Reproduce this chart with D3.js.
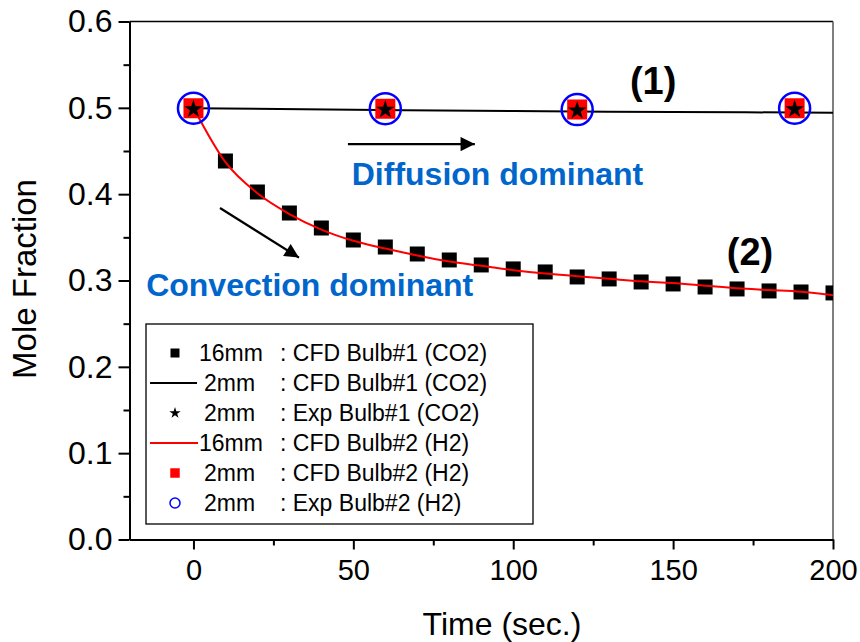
<!DOCTYPE html>
<html>
<head>
<meta charset="utf-8">
<script src="https://cdn.jsdelivr.net/npm/d3@7"></script>
<style>
  body { margin: 0 ; background: #ffffff ; }
  svg text { font-family: "Liberation Sans", Arial, sans-serif ; }
</style>
</head>
<body>
<div id="chart"></div>
<script>

// data
const timeCFD = [0, 10, 20, 30, 40, 50, 60, 70, 80, 90, 100, 110, 120, 130, 140, 150, 160, 170, 180, 190, 200] ;
const co2Bulb1_16mm = [0.5, 0.4384, 0.4025, 0.3782, 0.3608, 0.3469, 0.3388, 0.3307, 0.3238, 0.3180, 0.3134, 0.3099, 0.3041, 0.3018, 0.2983, 0.2960, 0.2925, 0.2902, 0.2879, 0.2867, 0.2856] ;
const h2Bulb2_16mm = [0.5, 0.437, 0.401, 0.377, 0.359, 0.346, 0.337, 0.329, 0.322, 0.317, 0.312, 0.308, 0.305, 0.302, 0.299, 0.297, 0.294, 0.291, 0.289, 0.287, 0.283] ;

const timeLine2mm = [0, 50, 100, 150, 200] ;
const co2Bulb1_2mm = [0.4995, 0.4977, 0.4962, 0.4952, 0.4944] ;

const timeExp = [0, 60, 120, 188] ;
const h2Bulb2_2mmCFD = [0.4995, 0.499, 0.498, 0.4995] ;
const co2Bulb1_2mmExp = [0.4995, 0.499, 0.498, 0.4995] ;
const h2Bulb2_2mmExp = [0.4995, 0.499, 0.498, 0.4995] ;

const xTicks = [0, 50, 100, 150, 200] ;
const xMinorTicks = [25, 75, 125, 175] ;
const yTicks = [0, 0.1, 0.2, 0.3, 0.4, 0.5, 0.6] ;
const yMinorTicks = [0.05, 0.15, 0.25, 0.35, 0.45, 0.55] ;

const legendSizes = ["16mm", "2mm", "2mm", "16mm", "2mm", "2mm"] ;
const legendNames = [": CFD Bulb#1 (CO2)", ": CFD Bulb#1 (CO2)", ": Exp Bulb#1 (CO2)", ": CFD Bulb#2 (H2)", ": CFD Bulb#2 (H2)", ": Exp Bulb#2 (H2)"] ;

const width = 860 ;
const height = 642 ;
const margin = { left : 129.5, right : 27, top : 21.5, bottom : 102.5 } ;

var xScale = d3.scaleLinear().domain([-20, 200]).range([margin.left, width - margin.right]) ;
var yScale = d3.scaleLinear().domain([0, 0.6]).range([height - margin.bottom, margin.top]) ;

let svg = d3.select("#chart")
    .append("svg")
    .attr("width", width)
    .attr("height", height) ;

svg.append("defs").append("clipPath")
    .attr("id", "plotclip")
    .append("rect")
    .attr("x", margin.left)
    .attr("y", margin.top)
    .attr("width", width - margin.right - margin.left)
    .attr("height", height - margin.bottom - margin.top) ;

let marker = svg.select("defs").append("marker")
    .attr("id", "arrowhead")
    .attr("viewBox", "0 0 10 10")
    .attr("refX", 10)
    .attr("refY", 5)
    .attr("markerWidth", 7.5)
    .attr("markerHeight", 6.5)
    .attr("markerUnits", "strokeWidth")
    .attr("orient", "auto") ;
marker.append("path").attr("d", "M0,0 L10,5 L0,10 Z").attr("fill", "#000") ;

// frame top / right
svg.append("line")
    .attr("x1", margin.left).attr("x2", width - margin.right)
    .attr("y1", margin.top).attr("y2", margin.top)
    .attr("stroke", "#000").attr("stroke-width", 1.5) ;
svg.append("line")
    .attr("x1", width - margin.right).attr("x2", width - margin.right)
    .attr("y1", margin.top).attr("y2", height - margin.bottom)
    .attr("stroke", "#555").attr("stroke-width", 1.5) ;

// axes
let xAxis = svg.append("g")
    .attr("transform", `translate(0, ${height - margin.bottom})`)
    .call(d3.axisBottom(xScale).tickValues(xTicks).tickSize(10).tickSizeOuter(0).tickPadding(10)) ;
let xMinor = svg.append("g")
    .attr("transform", `translate(0, ${height - margin.bottom})`)
    .call(d3.axisBottom(xScale).tickValues(xMinorTicks).tickSize(6).tickSizeOuter(0).tickFormat("")) ;
let yAxis = svg.append("g")
    .attr("transform", `translate(${margin.left}, 0)`)
    .call(d3.axisLeft(yScale).tickValues(yTicks).tickFormat(d3.format(".1f")).tickSize(11).tickSizeOuter(0).tickPadding(6)) ;
let yMinor = svg.append("g")
    .attr("transform", `translate(${margin.left}, 0)`)
    .call(d3.axisLeft(yScale).tickValues(yMinorTicks).tickSize(6).tickSizeOuter(0).tickFormat("")) ;

[xAxis, xMinor, yAxis, yMinor].forEach(g => {
    g.selectAll("path, line").attr("stroke", "#000").attr("stroke-width", 2) ;
    g.selectAll("text").attr("fill", "#000").style("font-family", '"Liberation Sans", Arial, sans-serif') ;
}) ;
xAxis.selectAll("text").style("font-size", "29px") ;
yAxis.selectAll("text").style("font-size", "32px") ;

svg.append("text")
    .attr("x", 502)
    .attr("y", 635)
    .attr("text-anchor", "middle")
    .style("font-size", "32px")
    .text("Time (sec.)") ;

svg.append("text")
    .attr("transform", "translate(36, 279) rotate(-90)")
    .attr("text-anchor", "middle")
    .style("font-size", "33px")
    .text("Mole Fraction") ;

// data
let plot = svg.append("g").attr("clip-path", "url(#plotclip)") ;

const zip = (xs, ys) => xs.map((t, i) => ({ t : t, v : ys[i] })) ;

var line = d3.line().x(d => xScale(d.t)).y(d => yScale(d.v)).curve(d3.curveMonotoneX) ;

plot.append("path")
    .datum(zip(timeLine2mm, co2Bulb1_2mm))
    .attr("d", line)
    .attr("fill", "none")
    .attr("stroke", "#000")
    .attr("stroke-width", 2) ;

plot.selectAll(".sq16")
    .data(zip(timeCFD, co2Bulb1_16mm))
    .enter()
    .append("path")
    .attr("class", "sq16")
    .attr("transform", d => `translate(${xScale(d.t)}, ${yScale(d.v)})`)
    .attr("d", d3.symbol(d3.symbolSquare, 225))
    .attr("fill", "#000") ;

plot.append("path")
    .datum(zip(timeCFD, h2Bulb2_16mm))
    .attr("d", line)
    .attr("fill", "none")
    .attr("stroke", "#ff0000")
    .attr("stroke-width", 2) ;

plot.selectAll(".sqRed")
    .data(zip(timeExp, h2Bulb2_2mmCFD))
    .enter()
    .append("path")
    .attr("class", "sqRed")
    .attr("transform", d => `translate(${xScale(d.t)}, ${yScale(d.v)})`)
    .attr("d", d3.symbol(d3.symbolSquare, 400))
    .attr("fill", "#ff0000") ;

plot.selectAll(".star")
    .data(zip(timeExp, co2Bulb1_2mmExp))
    .enter()
    .append("path")
    .attr("class", "star")
    .attr("transform", d => `translate(${xScale(d.t)}, ${yScale(d.v) + 1})`)
    .attr("d", d3.symbol(d3.symbolStar, 105))
    .attr("fill", "#000") ;

plot.selectAll(".circ")
    .data(zip(timeExp, h2Bulb2_2mmExp))
    .enter()
    .append("circle")
    .attr("class", "circ")
    .attr("cx", d => xScale(d.t))
    .attr("cy", d => yScale(d.v))
    .attr("r", 15.5)
    .attr("fill", "none")
    .attr("stroke", "#0000ff")
    .attr("stroke-width", 2.5) ;

// annotations (data coordinates)
svg.append("line")
    .attr("x1", xScale(48.3)).attr("y1", yScale(0.458))
    .attr("x2", xScale(88)).attr("y2", yScale(0.458))
    .attr("stroke", "#000").attr("stroke-width", 2.2)
    .attr("marker-end", "url(#arrowhead)") ;

svg.append("line")
    .attr("x1", xScale(8.3)).attr("y1", yScale(0.384))
    .attr("x2", xScale(33)).attr("y2", yScale(0.3265))
    .attr("stroke", "#000").attr("stroke-width", 2.2)
    .attr("marker-end", "url(#arrowhead)") ;

svg.append("text")
    .attr("x", xScale(49.5)).attr("y", yScale(0.411))
    .style("font-size", "32px").style("font-weight", "bold")
    .attr("fill", "#0066cc")
    .text("Diffusion dominant") ;

svg.append("text")
    .attr("x", xScale(-14.8)).attr("y", yScale(0.282))
    .style("font-size", "32px").style("font-weight", "bold")
    .attr("fill", "#0066cc")
    .text("Convection dominant") ;

svg.append("text")
    .attr("x", xScale(136.5)).attr("y", yScale(0.516))
    .style("font-size", "38px").style("font-weight", "bold")
    .text("(1)") ;

svg.append("text")
    .attr("x", xScale(166.8)).attr("y", yScale(0.318))
    .style("font-size", "38px").style("font-weight", "bold")
    .text("(2)") ;

// legend
let legend = svg.append("g") ;
legend.append("rect")
    .attr("x", 146).attr("y", 324)
    .attr("width", 387).attr("height", 200)
    .attr("fill", "#fff")
    .attr("stroke", "#000")
    .attr("stroke-width", 1.3) ;

const rowY = i => 353 + i * 30 ;
const symX = 175 ;

legend.append("path").attr("transform", `translate(${symX}, ${rowY(0)})`).attr("d", d3.symbol(d3.symbolSquare, 81)).attr("fill", "#000") ;
legend.append("line").attr("x1", 150).attr("x2", 197).attr("y1", rowY(1)).attr("y2", rowY(1)).attr("stroke", "#000").attr("stroke-width", 2) ;
legend.append("path").attr("transform", `translate(${symX}, ${rowY(2)})`).attr("d", d3.symbol(d3.symbolStar, 40)).attr("fill", "#000") ;
legend.append("line").attr("x1", 150).attr("x2", 198).attr("y1", rowY(3)).attr("y2", rowY(3)).attr("stroke", "#ff0000").attr("stroke-width", 2) ;
legend.append("path").attr("transform", `translate(${symX}, ${rowY(4)})`).attr("d", d3.symbol(d3.symbolSquare, 90)).attr("fill", "#ff0000") ;
legend.append("circle").attr("cx", symX).attr("cy", rowY(5)).attr("r", 5).attr("fill", "none").attr("stroke", "#0000ff").attr("stroke-width", 1.5) ;

legendSizes.forEach((s, i) => {
    legend.append("text")
        .attr("x", s === "16mm" ? 199 : 204)
        .attr("y", rowY(i) + 8)
        .style("font-size", "23px")
        .text(s) ;
    legend.append("text")
        .attr("x", 280)
        .attr("y", rowY(i) + 8)
        .style("font-size", "23px")
        .text(legendNames[i]) ;
}) ;

</script>
</body>
</html>
